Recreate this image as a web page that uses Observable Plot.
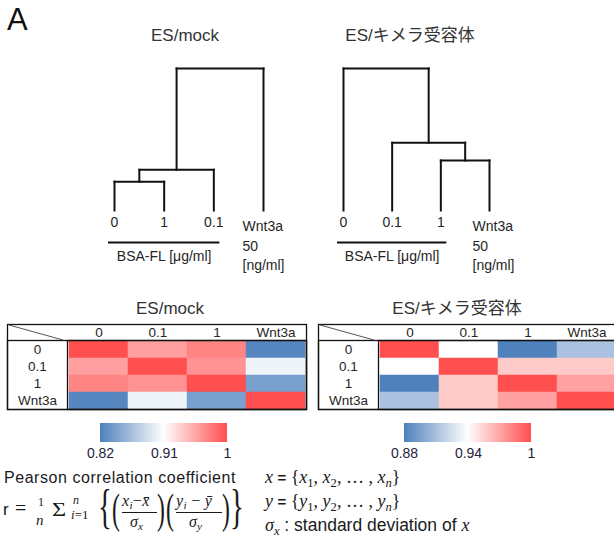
<!DOCTYPE html>
<html><head><meta charset="utf-8">
<script src="https://cdn.jsdelivr.net/npm/d3@7"></script>
<script src="https://cdn.jsdelivr.net/npm/@observablehq/plot@0.6"></script>
<style>
body{margin:0;background:#fff;}
#fig{position:relative;width:614px;height:537px;overflow:hidden;background:#fff;
  font-family:"Liberation Sans",Arial,"Noto Sans CJK JP",sans-serif;color:#262626;}
#fig svg{max-width:none !important;}
.abs{position:absolute;}
.title{font-size:17px;line-height:20px;white-space:nowrap;transform:translateX(-50%);color:#333;}
.math{font-family:"Liberation Serif","DejaVu Serif",serif;color:#1a1a1a;}
.i{font-style:italic;}
.pc{position:absolute;white-space:nowrap;display:block;}
sub{font-size:0.7em;vertical-align:-0.3em;line-height:0;}
</style></head>
<body><div id="fig"></div>
<script>
// ---------- data ----------
const panelTitles = ["ES/mock", "ES/キメラ受容体"];
const conditions = ["0", "0.1", "1", "Wnt3a"];
// Pearson correlation matrices (rows/columns in the order of `conditions`)
const mockCorr = [
  [1.000, 0.959, 0.973, 0.824],
  [0.959, 1.000, 0.965, 0.902],
  [0.973, 0.965, 1.000, 0.842],
  [0.824, 0.902, 0.842, 1.000]
];
const chimeraCorr = [
  [1.000, 0.940, 0.880, 0.911],
  [0.940, 1.000, 0.958, 0.958],
  [0.880, 0.958, 1.000, 0.972],
  [0.911, 0.958, 0.972, 1.000]
];
// colour-bar stops (min, mid, max)
const mockScale = [0.82, 0.91, 1];
const chimeraScale = [0.88, 0.94, 1];
// dendrogram leaf order and merges [nodeA, nodeB, height] (nodes >= 4 are earlier merges)
const mockLeafOrder = ["0", "1", "0.1", "Wnt3a"];
const mockMerges = [[0, 1, 0.029], [4, 2, 0.041], [5, 3, 0.143]];
const chimeraLeafOrder = ["0", "0.1", "1", "Wnt3a"];
const chimeraMerges = [[2, 3, 0.031], [1, 4, 0.042], [0, 5, 0.088]];
const groupLabel = "BSA-FL [μg/ml]";
const wntLabel = "Wnt3a\n50\n[ng/ml]";
const colorRange = ["#4f81bd", "#ffffff", "#ff4f4f"];

// ---------- helpers ----------
const fig = document.getElementById("fig");
const SANS = '"Liberation Sans", Arial, "Noto Sans CJK JP", sans-serif';
function place(el, left, top, width) {
  const d = document.createElement("div");
  d.className = "abs";
  d.style.left = left + "px"; d.style.top = top + "px";
  if (width) d.style.width = width + "px";
  d.appendChild(el); fig.appendChild(d); return d;
}
function title(text, cx, cy) {
  const d = document.createElement("div");
  d.className = "abs title"; d.textContent = text;
  d.style.left = cx + "px"; d.style.top = (cy - 10) + "px";
  fig.appendChild(d);
}

function dendroPlot(leaves, merges, L) {
  const nodes = leaves.map((d, i) => ({x: i, h: 0}));
  const segs = [];
  for (const [a, b, h] of merges) {
    const A = nodes[a], B = nodes[b];
    segs.push({x1: A.x, y1: A.h, x2: A.x, y2: h});
    segs.push({x1: B.x, y1: B.h, x2: B.x, y2: h});
    segs.push({x1: A.x, y1: h, x2: B.x, y2: h});
    nodes.push({x: (A.x + B.x) / 2, h});
  }
  const rootH = merges[merges.length - 1][2];
  const idx = leaves.map((d, i) => i).filter(i => leaves[i] !== "Wnt3a");
  const group = [{x1: d3.min(idx), x2: d3.max(idx), label: groupLabel}];
  const wi = leaves.indexOf("Wnt3a");
  return Plot.plot({
    width: L.width, height: L.height,
    marginLeft: L.x0, marginRight: L.width - L.x1,
    marginTop: L.yTop, marginBottom: L.height - L.yLeaf,
    x: {type: "linear", domain: [0, leaves.length - 1], axis: null},
    y: {type: "linear", domain: [0, rootH], axis: null},
    style: {fontFamily: SANS, fontSize: "14px", color: "#262626", background: "transparent", overflow: "visible"},
    marks: [
      Plot.link(segs, {x1: "x1", y1: "y1", x2: "x2", y2: "y2", stroke: "#111", strokeWidth: 2, strokeLinecap: "square"}),
      Plot.text(leaves.filter(d => d !== "Wnt3a"), {x: d => leaves.indexOf(d), y: () => 0, text: d => d, lineAnchor: "top", dy: 7, fill: "#262626"}),
      Plot.text([wntLabel], {x: () => wi, y: () => 0, text: d => d, textAnchor: "start", dx: L.wdx, lineAnchor: "top", dy: 7, lineHeight: 1.38, fill: "#262626"}),
      Plot.ruleY(group, {x1: "x1", x2: "x2", y: () => 0, dy: 32, insetLeft: -6, insetRight: -6, stroke: "#111", strokeWidth: 2}),
      Plot.text(group, {x: d => (d.x1 + d.x2) / 2, y: () => 0, text: "label", dy: 46, fill: "#262626"})
    ]
  });
}

function heatmap(matrix, domain, L) {
  const cells = [];
  conditions.forEach((r, i) => conditions.forEach((c, j) => cells.push({row: r, col: c, r: matrix[i][j]})));
  const ML = 60, MT = 16;
  return Plot.plot({
    width: L.width, height: 86,
    marginLeft: ML, marginTop: MT, marginRight: 1, marginBottom: 1,
    x: {type: "band", domain: conditions, axis: null, padding: 0},
    y: {type: "band", domain: conditions, axis: null, padding: 0},
    color: {type: "linear", domain, range: colorRange, interpolate: "rgb"},
    style: {fontFamily: SANS, fontSize: "13.5px", color: "#262626", background: "transparent", overflow: "visible"},
    marks: [
      Plot.cell(cells, {x: "col", y: "row", fill: "r", stroke: "r", strokeWidth: 0.5}),
      Plot.text(conditions, {x: d => d, text: d => d, frameAnchor: "top", lineAnchor: "middle", dy: -8, fill: "#262626"}),
      Plot.text(conditions, {y: d => d, text: d => d, frameAnchor: "left", textAnchor: "middle", dx: -30, fill: "#262626"}),
      Plot.frame({insetLeft: -ML, insetTop: -MT, stroke: "#111", strokeWidth: 1.3}),
      Plot.frame({insetLeft: -ML, stroke: "#111", strokeWidth: 1.3}),
      Plot.frame({stroke: "#111", strokeWidth: 1.3}),
      (index, scales, values, dims) => d3.create("svg:line")
        .attr("x1", 2).attr("y1", 1).attr("x2", dims.marginLeft - 4).attr("y2", dims.marginTop)
        .attr("stroke", "#555").attr("stroke-width", 1).node()
    ]
  });
}

function colorbar(domain) {
  const lg = Plot.legend({
    color: {type: "linear", domain, range: colorRange, interpolate: "rgb"},
    width: 167, height: 39, marginLeft: 20, marginRight: 20, marginTop: 0, marginBottom: 20,
    tickSize: 0, ticks: domain, tickFormat: d => String(d),
    style: {fontFamily: SANS, fontSize: "14px", color: "#1f2340", background: "transparent", overflow: "visible"}
  });
  d3.select(lg).selectAll(".tick line").remove();
  d3.select(lg).selectAll(".tick text").attr("y", 6);
  return lg;
}

// ---------- layout ----------
const A = document.createElement("div");
A.className = "abs"; A.textContent = "A";
A.style.cssText = "left:7px;top:2px;font-size:31px;line-height:36px;color:#111;";
fig.appendChild(A);

title(panelTitles[0], 185, 36);
title(panelTitles[1], 410, 36);
place(dendroPlot(mockLeafOrder, mockMerges, {width: 307, height: 275, x0: 114, x1: 263, yTop: 68, yLeaf: 210, wdx: -21}), 0, 0, 307);
place(dendroPlot(chimeraLeafOrder, chimeraMerges, {width: 314, height: 275, x0: 43, x1: 189, yTop: 68, yLeaf: 210, wdx: -17}), 300, 0, 314);

title(panelTitles[0], 170, 309);
title(panelTitles[1], 457, 309);
place(heatmap(mockCorr, mockScale, {width: 300}), 7, 324, 300);
place(heatmap(chimeraCorr, chimeraScale, {width: 300}), 318, 324, 300);

place(colorbar(mockScale), 80, 423, 167);
place(colorbar(chimeraScale), 384, 423, 167);

// ---------- formula caption ----------
const cap = document.createElement("div");
cap.className = "abs";
cap.style.cssText = "left:4px;top:468px;font-size:16px;letter-spacing:0.55px;line-height:20px;color:#1a1a1a;";
cap.textContent = "Pearson correlation coefficient";
fig.appendChild(cap);

// piece(html, left, baseline, fontSize, extraStyle, cls)
function piece(html, left, baseline, size, extra = "", cls = "math") {
  const s = document.createElement("span");
  s.className = "pc " + cls;
  s.style.cssText = `left:${left}px;top:${baseline - 0.8375 * size}px;font-size:${size}px;line-height:${size}px;` + extra;
  s.innerHTML = html; fig.appendChild(s); return s;
}
function bar(left, width, y) {
  const s = document.createElement("div");
  s.className = "abs";
  s.style.cssText = `left:${left}px;top:${y}px;width:${width}px;height:1px;background:#1a1a1a;`;
  fig.appendChild(s);
}
piece("r", 3, 515, 17, "color:#1a1a1a;", "");
piece("=", 15, 515, 20);
piece("1", 38, 506, 12);
piece("n", 36, 526, 15, "", "math i");
piece("Σ", 52, 516, 18, "transform:scaleX(1.35);transform-origin:left;");
piece("n", 73, 504, 12, "", "math i");
piece("<i>i</i>=1", 71, 519, 13);
piece("{", 98, 523, 48, "transform:scaleX(0.6);transform-origin:left;");
piece("(", 112, 523, 43, "transform:scaleX(0.55);transform-origin:left;");
piece("<i>x<sub>i</sub></i>−<i>x̄</i>", 122, 506, 16, "letter-spacing:0.3px;");
bar(122, 35, 512);
piece("<i>σ<sub>x</sub></i>", 130, 527, 16);
piece(")", 157, 523, 43, "transform:scaleX(0.55);transform-origin:left;");
piece("(", 166, 523, 43, "transform:scaleX(0.55);transform-origin:left;");
piece("<i>y<sub>i</sub></i> − <i>ȳ</i>", 176, 506, 16, "letter-spacing:0.3px;");
bar(176, 46, 512);
piece("<i>σ<sub>y</sub></i>", 189, 527, 16);
piece(")", 222, 523, 43, "transform:scaleX(0.55);transform-origin:left;");
piece("}", 230, 523, 48, "transform:scaleX(0.6);transform-origin:left;");

function defLine(html, top) {
  const d = document.createElement("div");
  d.className = "abs";
  d.style.cssText = `left:265px;top:${top}px;line-height:20px;white-space:nowrap;color:#1a1a1a;`;
  d.innerHTML = html; fig.appendChild(d);
}
defLine(`<span class="math i" style="font-size:18px">x</span> <b style="font-size:15px">=</b> <span class="math" style="font-size:18px">{<i>x</i><sub>1</sub>, <i>x</i><sub>2</sub>, … , <i>x<sub>n</sub></i>}</span>`, 467);
defLine(`<span class="math i" style="font-size:18px">y</span> <b style="font-size:15px">=</b> <span class="math" style="font-size:18px">{<i>y</i><sub>1</sub>, <i>y</i><sub>2</sub>, … , <i>y<sub>n</sub></i>}</span>`, 491);
defLine(`<span class="math i" style="font-size:18px">σ<sub>x</sub></span><span style="font-size:17.5px"> : standard deviation of </span><span class="math i" style="font-size:18px">x</span>`, 515);
</script></body></html>
